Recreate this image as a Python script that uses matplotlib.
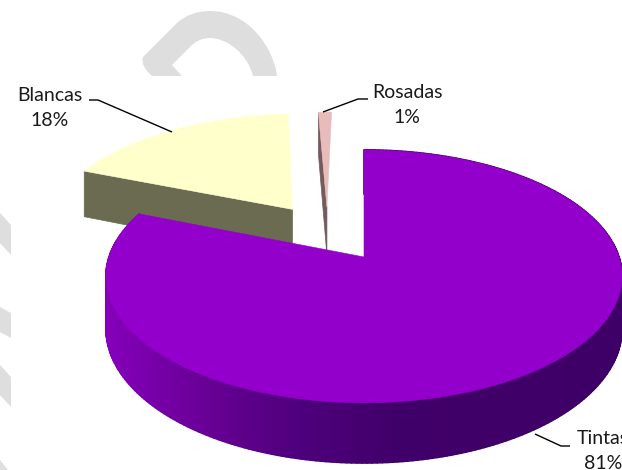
import numpy as np
import matplotlib
matplotlib.use("Agg")
import matplotlib.pyplot as plt
from matplotlib.collections import PolyCollection
from matplotlib.patches import Polygon, PathPatch
from matplotlib.path import Path

names = ["Tintas", "Blancas", "Rosadas"]
values = [81, 18, 1]

# fake 3d view: disc coords -> pixels, k is the perspective
cx, cy = 364, 257
a, b, k = 255, 123.5, 0.153
thick = 51
shift = {"Tintas": (0, 0), "Blancas": (-0.298, 0.41), "Rosadas": (-0.155, 0.43)}
top_col = {"Tintas": "#9400cb", "Blancas": "#ffffcc", "Rosadas": "#e9bcbc"}
side_col = {"Blancas": "#6b6b52", "Rosadas": "#75595c"}

label_pos = {"Tintas": (603, 451), "Blancas": (50, 108), "Rosadas": (407, 105)}
leaders = {
    "Tintas": ([535, 561, 570], [434, 446, 446]),
    "Blancas": ([89, 98, 172], [100, 100, 132]),
    "Rosadas": ([323, 358, 368], [112, 99, 99]),
}

# grey watermark pieces behind the chart
mark_grey = "#dedede"
stripes = [
    [(0, 213), (11, 225), (11, 255), (0, 243)],
    [(0, 307), (11, 313), (11, 338), (0, 332)],
    [(0, 365), (11, 377), (11, 407), (0, 395)],
    [(0, 460), (8, 470), (0, 470)],
]


def project(u, v):
    w = 1 + k * v
    return cx + a * u / w, cy - b * v / w


def drop(v):
    return thick / (1 + k * v)


fig = plt.figure(figsize=(6.22, 4.7), dpi=100)
ax = fig.add_axes([0, 0, 1, 1])
ax.set_xlim(0, 622)
ax.set_ylim(470, 0)
ax.axis("off")

# watermark
arch = Path(
    [(152, 76), (140, 66), (143, 57), (177, 23), (190, 11), (210, 11),
     (250, 11), (274, 50), (277, 76), (253, 76), (248, 55), (228, 38), (210, 38),
     (198, 38), (190, 47), (172, 65), (182, 76), (152, 76)],
    [Path.MOVETO, Path.CURVE3, Path.CURVE3, Path.LINETO, Path.CURVE3, Path.CURVE3,
     Path.CURVE4, Path.CURVE4, Path.CURVE4, Path.LINETO, Path.CURVE4, Path.CURVE4, Path.CURVE4,
     Path.CURVE3, Path.CURVE3, Path.LINETO, Path.LINETO, Path.CLOSEPOLY],
)
ax.add_patch(PathPatch(arch, fc=mark_grey, ec="none", zorder=1))
for s in stripes:
    ax.add_patch(Polygon(s, fc=mark_grey, ec="none", zorder=1))

start = 0.0
order = [2, 1, 0]  # exploded ones first, Tintas on top
spans = {}
for n, v in zip(names, values):
    spans[n] = (start, start + v / sum(values) * 2 * np.pi)
    start = spans[n][1]

for i in order:
    n = names[i]
    t0, t1 = spans[n]
    du, dv = shift[n]
    th = np.linspace(t0, t1, 300)
    u = du + np.sin(th)
    v = dv + np.cos(th)
    x, y = project(u, v)
    ax0, ay0 = project(du, dv)

    if n == "Tintas":
        # outer wall, light on the left and dark at the front
        quads = []
        cols = []
        for j in range(len(th) - 1):
            quads.append([(x[j], y[j]), (x[j + 1], y[j + 1]),
                          (x[j + 1], y[j + 1] + drop(v[j + 1])), (x[j], y[j] + drop(v[j]))])
            r = np.interp(x[j], [105, 200, 300, 400, 622], [0x85, 0x6a, 0x4e, 0x40, 0x3e])
            bl = np.interp(x[j], [105, 200, 300, 400, 622], [0xbb, 0x98, 0x7c, 0x69, 0x66])
            cols.append((r / 255, 0, bl / 255))
        ax.add_collection(PolyCollection(quads, facecolors=cols, edgecolors=cols, linewidths=1.2, zorder=3))
    else:
        # cut face on the side facing us
        d0 = drop(dv)
        d1 = drop(v[0])
        ax.add_patch(Polygon([(x[0], y[0]), (ax0, ay0), (ax0, ay0 + d0), (x[0], y[0] + d1)],
                             fc=side_col[n], ec=side_col[n], lw=0.5, zorder=2))

    ax.add_patch(Polygon(np.r_[[[ax0, ay0]], np.c_[x, y]], fc=top_col[n], ec=top_col[n], lw=0.4,
                         zorder=3 if n == "Tintas" else 2.5))

for n, val in zip(names, values):
    lx, ly = leaders[n]
    ax.plot(lx, ly, color="black", lw=1.0, zorder=5, solid_capstyle="butt")
    px, py = label_pos[n]
    ax.text(px, py, f"{n}\n{val}%", ha="center", va="center", family="Lato", fontsize=14,
            color="#1a1a1a", linespacing=1.62, zorder=6)

fig.savefig("out.png", dpi=100)
